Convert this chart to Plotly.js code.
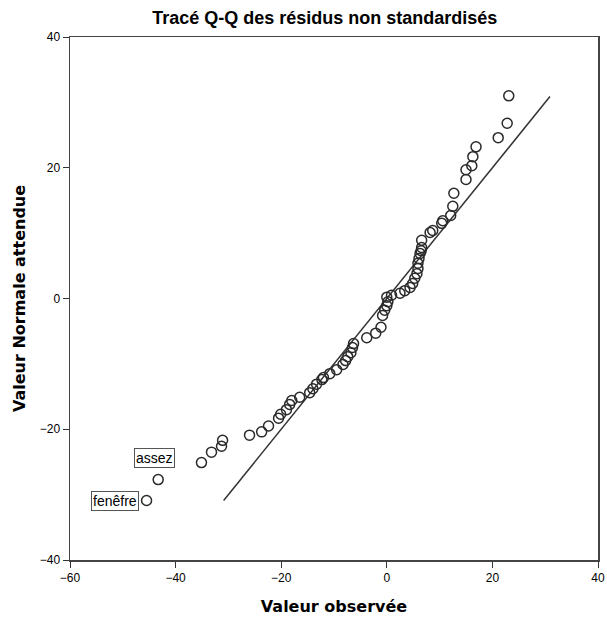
<!DOCTYPE html>
<html>
<head>
<meta charset="utf-8">
<script src="https://cdn.plot.ly/plotly-3.0.1.min.js"></script>
<style>body{margin:0;background:#fff;} #chart{width:607px;height:621px;}</style>
</head>
<body>
<div id="chart"></div>
<script>
// Observed residuals (x) and expected normal values (y)
const observed = [
  -45.5, -43.3, -35.1, -33.2, -31.3, -31.1, -26.0, -23.7, -22.4, -20.5,
  -20.1, -19.0, -18.4, -18.0, -16.5, -14.6, -14.0, -13.3, -12.3, -12.0,
  -10.8, -9.5, -8.3, -7.8, -7.4, -6.8, -6.5, -6.3, -3.8, -2.1,
  -1.1, -0.8, -0.4, 0.0, 0.2, 0.0, 0.9, 2.5, 3.4, 4.4,
  4.9, 5.3, 5.7, 5.9, 5.9, 6.1, 6.3, 6.5, 6.6, 6.6,
  8.2, 8.7, 10.4, 10.6, 12.1, 12.5, 12.7, 15.0, 15.0, 16.1,
  16.3, 16.9, 21.1, 22.8, 23.1
];
const expected = [
  -30.9, -27.7, -25.1, -23.5, -22.6, -21.7, -20.9, -20.4, -19.5, -18.3,
  -17.7, -17.0, -16.2, -15.6, -15.1, -14.4, -13.8, -13.1, -12.4, -12.1,
  -11.5, -10.9, -10.1, -9.5, -8.9, -8.3, -7.5, -6.9, -6.0, -5.3,
  -4.4, -2.6, -1.8, -1.1, -0.5, 0.2, 0.5, 0.8, 1.2, 1.7,
  2.3, 3.1, 3.8, 4.6, 5.4, 6.1, 6.9, 7.3, 7.8, 8.9,
  10.1, 10.4, 11.5, 11.9, 12.7, 14.1, 16.1, 18.2, 19.7, 20.3,
  21.7, 23.2, 24.6, 26.8, 31.0
];
const refLineX = [-30.9, 30.9];
const refLineY = [-30.9, 30.9];
const labels = [{text: "fenêfre", idx: 0, ax: -8, ay: 0}, {text: "assez", idx: 1, ax: 17, ay: -22}];

const traces = [
  {x: refLineX, y: refLineY, mode: 'lines', line: {color: '#333', width: 1.5}, hoverinfo: 'skip'},
  {x: observed, y: expected, mode: 'markers', type: 'scatter',
   marker: {symbol: 'circle-open', size: 10, color: '#2a2a2a', line: {width: 1.5, color: '#2a2a2a'}}}
];

const annotations = labels.map(l => ({
  x: observed[l.idx], y: expected[l.idx], xref: 'x', yref: 'y',
  text: l.text, showarrow: true, arrowcolor: 'rgba(0,0,0,0)', ax: l.ax, ay: l.ay,
  xanchor: 'right', yanchor: 'middle',
  bordercolor: '#555', borderwidth: 1, borderpad: 1, bgcolor: '#fff',
  font: {family: 'Liberation Sans, Arial, sans-serif', size: 14, color: '#000'}
}));

const layout = {
  width: 607, height: 621,
  margin: {l: 70, r: 9, t: 37, b: 61},
  showlegend: false,
  paper_bgcolor: '#fff', plot_bgcolor: '#fff',
  font: {family: 'Liberation Sans, Arial, sans-serif', size: 12, color: '#000'},
  title: {text: '<b>Tracé Q-Q des résidus non standardisés</b>', x: 0.535, xref: 'container', xanchor: 'center', y: 0.971, yanchor: 'middle',
          font: {size: 18, color: '#000', family: 'Liberation Sans, Arial, sans-serif'}},
  xaxis: {range: [-60, 40], tickvals: [-60, -40, -20, 0, 20, 40], ticks: 'outside', ticklen: 6, tickcolor: '#333',
          showline: true, linecolor: '#444', linewidth: 1.5, mirror: true, showgrid: false, zeroline: false,
          tickfont: {size: 12}, title: {text: '<b>Valeur observée</b>', font: {size: 16, family: 'DejaVu Sans, sans-serif'}, standoff: 17}},
  yaxis: {range: [-40, 40], tickvals: [-40, -20, 0, 20, 40], ticks: 'outside', ticklen: 6, tickcolor: '#333',
          showline: true, linecolor: '#444', linewidth: 1.5, mirror: true, showgrid: false, zeroline: false,
          tickfont: {size: 12}, title: {text: '<b>Valeur Normale attendue</b>', font: {size: 16, family: 'DejaVu Sans, sans-serif'}, standoff: 10}},
  annotations: annotations
};

Plotly.newPlot('chart', traces, layout, {displayModeBar: false, staticPlot: true});
</script>
</body>
</html>
